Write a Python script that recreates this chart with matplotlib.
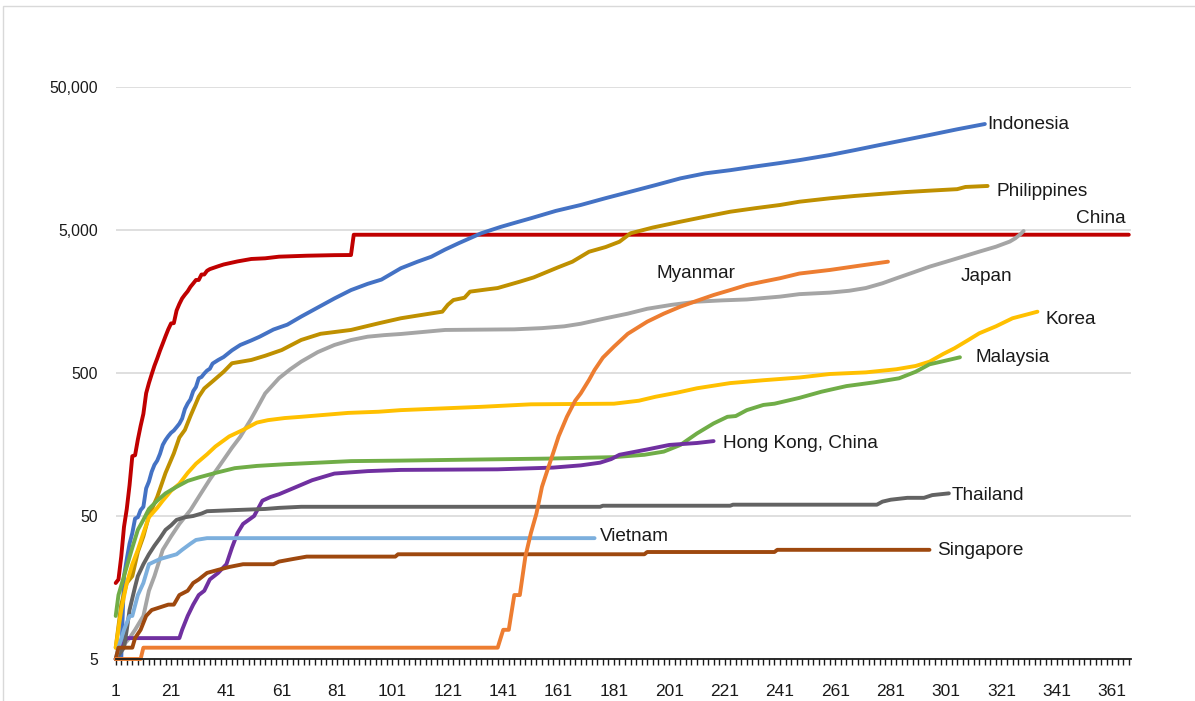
import matplotlib
matplotlib.use("Agg")
import matplotlib.pyplot as plt
from matplotlib.patches import Rectangle
from matplotlib.ticker import FixedLocator, FuncFormatter, NullLocator

plt.rcParams['font.family'] = ['Liberation Sans', 'DejaVu Sans']

# ---------------------------------------------------------
# Cumulative deaths (day -> count)
# ---------------------------------------------------------
china_day = [1, 2, 3, 4, 5, 6, 7, 8, 9, 10, 11, 12, 13, 14, 15, 16, 17, 18, 19, 20,
             21, 22, 23, 24, 25, 26, 27, 28, 29, 30, 31, 32, 33, 34, 35, 38, 40, 45,
             50, 55, 60, 70, 80, 86, 87, 367]
china_val = [17, 18, 26, 42, 56, 82, 131, 133, 171, 213, 259, 361, 425, 490, 562, 632,
             717, 804, 904, 1011, 1111, 1116, 1368, 1520, 1662, 1765, 1863, 2002, 2114,
             2236, 2236, 2441, 2443, 2593, 2663, 2788, 2870, 3015, 3136, 3170, 3254,
             3305, 3335, 3342, 4632, 4635]

indonesia_day = [1, 3, 4, 5, 6, 7, 8, 9, 10, 11, 12, 13, 14, 15, 16, 17, 18, 19, 20,
                 21, 22, 23, 24, 25, 26, 27, 28, 29, 30, 31, 32, 33, 34, 35, 36, 38,
                 40, 43, 46, 50, 53, 58, 63, 68, 75, 80, 86, 92, 97, 104, 110, 115,
                 120, 125, 133, 140, 145, 151, 160, 169, 178, 187, 196, 205, 214, 223,
                 232, 241, 248, 259, 268, 277, 286, 295, 305, 315]
indonesia_val = [5, 5, 19, 25, 32, 38, 48, 49, 55, 58, 78, 87, 102, 114, 122, 136, 157,
                 170, 181, 191, 198, 209, 221, 240, 280, 306, 327, 373, 399, 459, 469,
                 496, 520, 535, 582, 616, 647, 720, 785, 845, 897, 1007, 1089, 1240,
                 1470, 1660, 1900, 2100, 2250, 2700, 3000, 3250, 3650, 4050, 4740, 5250,
                 5600, 6040, 6800, 7480, 8350, 9270, 10300, 11480, 12450, 13100, 13900,
                 14700, 15400, 16720, 18100, 19650, 21300, 23080, 25300, 27550]

philippines_day = [1, 3, 5, 7, 9, 11, 13, 16, 19, 22, 24, 26, 28, 31, 33, 36, 40, 43,
                   50, 55, 61, 68, 75, 86, 96, 104, 110, 119, 121, 123, 127, 129, 135,
                   139, 147, 152, 157, 161, 166, 172, 178, 183, 187, 195, 205, 214, 223,
                   232, 241, 248, 259, 268, 277, 286, 295, 305, 308, 316]
philippines_val = [6, 12, 17, 19, 28, 36, 50, 68, 100, 137, 177, 200, 250, 341, 390,
                   437, 510, 585, 617, 660, 724, 851, 940, 1000, 1113, 1207, 1260, 1342,
                   1500, 1619, 1680, 1853, 1920, 1964, 2176, 2330, 2555, 2750, 3002,
                   3523, 3800, 4140, 4742, 5200, 5714, 6200, 6710, 7100, 7480, 7885,
                   8330, 8650, 8930, 9200, 9420, 9650, 10000, 10160]

japan_day = [1, 3, 6, 8, 11, 13, 15, 18, 21, 24, 28, 31, 35, 39, 43, 46, 50, 55, 60,
             64, 68, 74, 80, 86, 92, 98, 104, 120, 145, 155, 163, 169, 178, 186, 193,
             202, 211, 220, 229, 241, 248, 259, 266, 272, 278, 283, 289, 295, 301, 307,
             313, 319, 324, 326, 328, 329]
japan_val = [5, 6, 7, 8, 10, 15, 19, 29, 36, 44, 55, 68, 90, 116, 150, 179, 240, 360,
             460, 530, 600, 700, 785, 850, 897, 920, 937, 1000, 1010, 1030, 1060, 1105,
             1207, 1300, 1406, 1500, 1577, 1610, 1634, 1710, 1780, 1824, 1880, 1964,
             2120, 2296, 2520, 2770, 3000, 3253, 3530, 3820, 4150, 4375, 4700, 4920]

myanmar_day = [1, 10, 11, 138, 139, 141, 143, 145, 147, 149, 151, 153, 155, 157, 159,
               161, 164, 167, 169, 172, 174, 177, 181, 186, 193, 199, 205, 211, 217,
               223, 229, 235, 241, 248, 259, 270, 280]
myanmar_val = [5, 5, 6, 6, 6, 8, 8, 14, 14, 26, 38, 52, 80, 105, 137, 180, 247, 320,
               360, 447, 525, 640, 764, 940, 1142, 1300, 1455, 1600, 1755, 1900, 2062,
               2180, 2300, 2480, 2627, 2820, 3002]

korea_day = [1, 3, 5, 7, 9, 11, 13, 16, 18, 21, 24, 27, 30, 34, 37, 42, 47, 52, 56,
             62, 68, 85, 96, 104, 133, 151, 181, 190, 196, 204, 211, 223, 235, 248,
             259, 272, 283, 290, 295, 300, 304, 309, 313, 319, 325, 330, 334]
korea_val = [6, 11, 17, 23, 29, 38, 49, 57, 64, 75, 84, 100, 116, 135, 153, 180, 200,
             225, 234, 242, 247, 263, 268, 275, 290, 302, 305, 320, 341, 365, 391, 425,
             445, 465, 492, 505, 531, 560, 600, 680, 744, 850, 948, 1060, 1207, 1280,
             1342]

malaysia_day = [1, 2, 4, 7, 9, 11, 13, 16, 19, 23, 27, 31, 37, 44, 52, 62, 86, 104,
                130, 157, 181, 192, 199, 205, 211, 217, 222, 225, 229, 235, 239, 248,
                256, 265, 275, 284, 290, 295, 300, 306]
malaysia_val = [10, 14, 19, 30, 40, 47, 56, 64, 72, 80, 88, 93, 100, 108, 112, 115,
                121, 122, 124, 126, 129, 134, 141, 157, 189, 222, 247, 250, 275, 299,
                305, 335, 370, 405, 430, 459, 510, 575, 605, 644]

hongkong_day = [1, 3, 5, 24, 25, 27, 29, 31, 33, 35, 38, 41, 43, 45, 47, 51, 54, 57,
                60, 65, 72, 80, 92, 104, 139, 159, 169, 176, 180, 183, 193, 201, 211,
                217]
hongkong_val = [5, 6, 7, 7, 8, 10, 12, 14, 15, 18, 20, 23, 30, 38, 44, 50, 64, 68, 71,
                78, 89, 99, 103, 105, 106, 109, 113, 118, 125, 134, 146, 157, 162, 167]

thailand_day = [1, 4, 5, 6, 8, 9, 11, 13, 15, 17, 19, 21, 23, 26, 29, 32, 34, 44, 55,
                60, 68, 176, 177, 223, 224, 276, 278, 281, 287, 293, 296, 302]
thailand_val = [5, 6, 8, 11, 16, 19, 23, 27, 31, 35, 40, 43, 47, 49, 50, 52, 54, 55,
                56, 57, 58, 58, 59, 59, 60, 60, 63, 65, 67, 67, 70, 72]

vietnam_day = [1, 2, 4, 6, 7, 9, 11, 13, 15, 17, 23, 25, 28, 30, 34, 174]
vietnam_val = [5, 6, 8, 10, 10, 14, 17, 23, 24, 25, 27, 29, 32, 34, 35, 35]

singapore_day = [1, 2, 7, 8, 10, 12, 14, 20, 22, 24, 27, 29, 31, 34, 38, 42, 47, 58,
                 60, 65, 70, 102, 103, 192, 193, 239, 240, 295]
singapore_val = [5, 6, 6, 7, 8, 10, 11, 12, 12, 14, 15, 17, 18, 20, 21, 22, 23, 23,
                 24, 25, 26, 26, 27, 27, 28, 28, 29, 29]

# name, days, values, colour  (drawing order: first = bottom)
series = [
    ("China", china_day, china_val, "#C00000"),
    ("Indonesia", indonesia_day, indonesia_val, "#4472C4"),
    ("Philippines", philippines_day, philippines_val, "#BF9000"),
    ("Japan", japan_day, japan_val, "#A5A5A5"),
    ("Korea", korea_day, korea_val, "#FFC000"),
    ("Malaysia", malaysia_day, malaysia_val, "#70AD47"),
    ("Hong Kong, China", hongkong_day, hongkong_val, "#7030A0"),
    ("Thailand", thailand_day, thailand_val, "#636363"),
    ("Vietnam", vietnam_day, vietnam_val, "#7CAFDD"),
    ("Singapore", singapore_day, singapore_val, "#9E480E"),
    ("Myanmar", myanmar_day, myanmar_val, "#ED7D31"),
]

# where each name sits (day, value), left edge of text
label_pos = {
    "Indonesia": (316.0, 27550),
    "Philippines": (319.2, 9270),
    "China": (348.1, 6040),
    "Myanmar": (196.4, 2490),
    "Japan": (306.3, 2357),
    "Korea": (336.9, 1187),
    "Malaysia": (311.7, 644),
    "Hong Kong, China": (220.4, 161),
    "Thailand": (302.9, 69),
    "Vietnam": (175.9, 36),
    "Singapore": (297.7, 28.8),
}

y_ticks = [5, 50, 500, 5000, 50000]
x_labels = list(range(1, 362, 20))

W, H = 1195, 701
fig = plt.figure(figsize=(W / 100, H / 100), dpi=100)
ax = fig.add_axes([115.7 / W, 1 - 659 / H, (1131 - 115.7) / W, (659 - 87) / H])

for name, d, v, c in series:
    ax.plot(d, v, color=c, lw=2.8, solid_capstyle='round', solid_joinstyle='round',
            clip_on=False, zorder=3)
    lx, ly = label_pos[name]
    ax.text(lx, ly, name, fontsize=13.7, color='#1a1a1a', ha='left', va='center',
            zorder=5)

ax.set_yscale('log')
ax.set_ylim(5, 50000)
ax.set_xlim(1, 367.8)

ax.yaxis.set_major_locator(FixedLocator(y_ticks))
ax.yaxis.set_minor_locator(NullLocator())
ax.yaxis.set_major_formatter(FuncFormatter(lambda v, p: f"{int(round(v)):,}"))
ax.tick_params(axis='y', length=0, pad=13, labelsize=11.3, labelcolor='#1a1a1a')
ax.grid(axis='y', color='#D9D9D9', lw=1.2, zorder=0)

ax.xaxis.set_major_locator(FixedLocator(x_labels))
ax.xaxis.set_minor_locator(FixedLocator(list(range(1, 368, 2))))
ax.tick_params(axis='x', which='both', direction='out', length=4, width=1,
               color='#1a1a1a', labelsize=12.5, labelcolor='#1a1a1a', pad=14)

for s in ['top', 'right', 'left']:
    ax.spines[s].set_visible(False)
ax.spines['bottom'].set_color('#1a1a1a')
ax.spines['bottom'].set_linewidth(1.3)
ax.spines['bottom'].set_zorder(6)

# light chart border (top and left edges visible)
fig.add_artist(Rectangle((3 / W, -0.1), 1.2, 1.1 - 6 / H, transform=fig.transFigure,
                         fill=False, edgecolor='#D9D9D9', lw=1))

fig.savefig("out.png", dpi=100)
